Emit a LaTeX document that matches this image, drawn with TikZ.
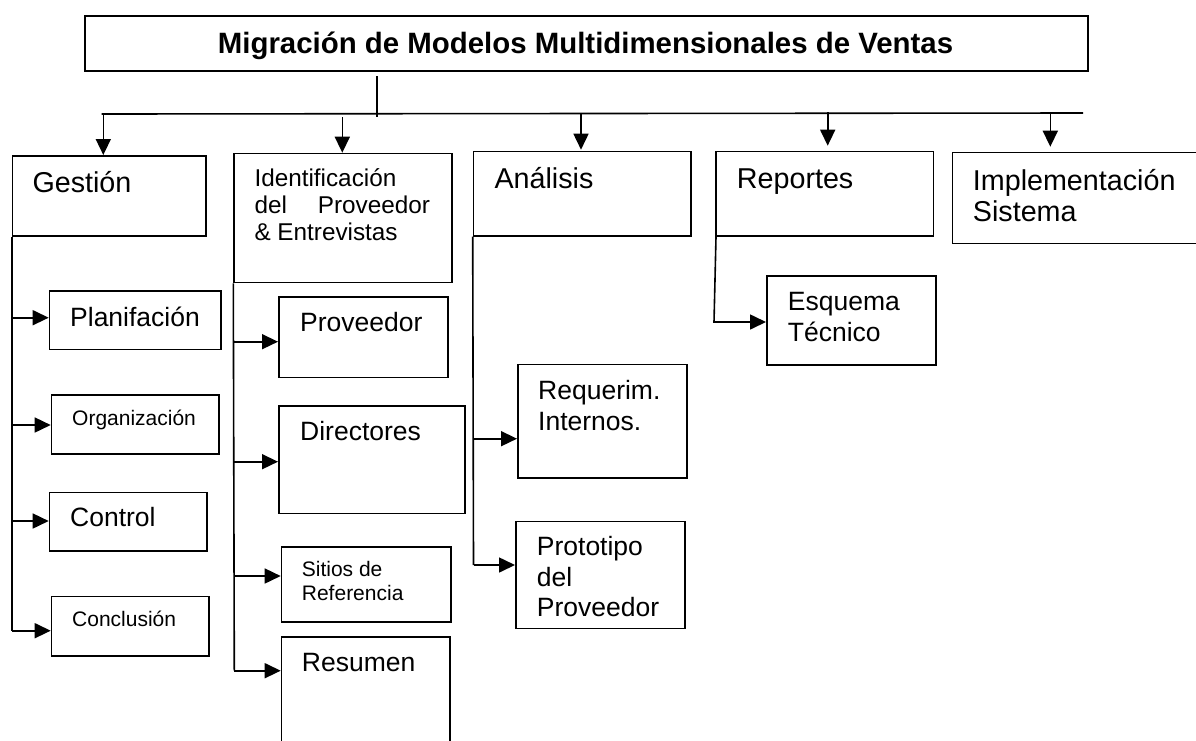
\documentclass[tikz,border=0pt]{standalone}
\usepackage{fontspec}
\setmainfont{Liberation Sans}
\usetikzlibrary{arrows.meta}
\newcommand\fa{\fontsize{28.7}{34}\selectfont}
\newcommand\fb{\fontsize{26.5}{31}\selectfont}
\newcommand\fc{\fontsize{21}{23}\selectfont}
\newcommand\fd{\fontsize{24.3}{27}\selectfont}
\newcommand\ft{\fontsize{29.4}{34}\selectfont\bfseries}
\tikzset{
  box/.style={draw, rectangle, line width=1.6pt, inner sep=0pt, anchor=north west},
  conn/.style={line width=1.6pt},
  arr/.style={conn, -{Triangle[length=16pt,width=15pt]}},
  txt/.style={anchor=base west, inner sep=0pt},
}
\begin{document}
\begin{tikzpicture}[x=1pt,y=-1pt]
\useasboundingbox (0,0) rectangle (1196,740);
\clip (0,0) rectangle (1196,740);
% boxes
\node[box, minimum width=1003pt, minimum height=55pt] (title) at (84,15) {};
\node[box, minimum width=193.3pt, minimum height=80.3pt] (gest) at (11.7,155) {};
\node[box, minimum width=217.7pt, minimum height=129pt] (ident) at (233.3,152.7) {};
\node[box, minimum width=217.3pt, minimum height=84.3pt] (anal) at (472.7,150.7) {};
\node[box, minimum width=217.7pt, minimum height=84.6pt] (repo) at (715,150.7) {};
\node[box, minimum width=260pt, minimum height=91pt] (impl) at (951.7,151.7) {};
\node[box, minimum width=171.3pt, minimum height=58.7pt] (plan) at (48.7,290) {};
\node[box, minimum width=167.3pt, minimum height=59pt] (org) at (50.7,394) {};
\node[box, minimum width=157.3pt, minimum height=58.3pt] (ctrl) at (48.7,491.7) {};
\node[box, minimum width=157.3pt, minimum height=59.3pt] (concl) at (50.7,595.7) {};
\node[box, minimum width=169pt, minimum height=80.7pt] (prov) at (278,296) {};
\node[box, minimum width=186pt, minimum height=107.7pt] (dir) at (278,405) {};
\node[box, minimum width=169.3pt, minimum height=75pt] (sitios) at (280.7,546) {};
\node[box, minimum width=168.6pt, minimum height=120pt] (resu) at (280.7,636) {};
\node[box, minimum width=169pt, minimum height=113.3pt] (req) at (517,363.7) {};
\node[box, minimum width=169pt, minimum height=107pt] (proto) at (515,520.7) {};
\node[box, minimum width=169pt, minimum height=89.3pt] (esq) at (766,275) {};
% texts
\node[anchor=base, inner sep=0pt, font=\ft] (ttitle) at (585.5,53.3) {Migración de Modelos Multidimensionales de Ventas};
\node[txt, font=\fa] (tgest) at (32.3,192.7) {Gestión};
\node[txt, font=\fd] (tid1) at (254.3,186.3) {Identificación};
\node[txt, font=\fd] (tid2) at (254.3,213.3) {\hbox to 175.5pt{del\hfill Proveedor}};
\node[txt, font=\fd] (tid3) at (254.3,240.7) {\& Entrevistas};
\node[txt, font=\fa] (tanal) at (494.3,188.3) {Análisis};
\node[txt, font=\fa] (trepo) at (736.7,188.3) {Reportes};
\node[txt, font=\fa] (timp1) at (972.7,190) {Implementación};
\node[txt, font=\fa] (timp2) at (972.7,221.7) {Sistema};
\node[txt, font=\fb] (tplan) at (70,326) {Planifación};
\node[txt, font=\fc] (torg) at (72,425) {Organización};
\node[txt, font=\fb] (tctrl) at (70,526.7) {Control};
\node[txt, font=\fc] (tconcl) at (72,626) {Conclusión};
\node[txt, font=\fb] (tprov) at (300,331.7) {Proveedor};
\node[txt, font=\fb] (tdir) at (300,440.7) {Directores};
\node[txt, font=\fc] (tsit1) at (301.7,576.7) {Sitios de};
\node[txt, font=\fc] (tsit2) at (301.7,600) {Referencia};
\node[txt, font=\fb] (tresu) at (301.7,671.7) {Resumen};
\node[txt, font=\fb] (treq1) at (538,399) {Requerim.};
\node[txt, font=\fb] (treq2) at (538,430) {Internos.};
\node[txt, font=\fb] (tpro1) at (536.7,555) {Prototipo};
\node[txt, font=\fb] (tpro2) at (536.7,586) {del};
\node[txt, font=\fb] (tpro3) at (536.7,616.7) {Proveedor};
\node[txt, font=\fb] (tesq1) at (787.7,310.7) {Esquema};
\node[txt, font=\fb] (tesq2) at (787.7,341.7) {Técnico};
% top connectors
\coordinate (t0) at (376.7,76);
\coordinate (t1) at (376.7,117);
\coordinate (busL) at (101.7,114);
\coordinate (busR) at (1083,113);
\draw[conn] (t0) -- (t1);
\draw[conn] (busL) -- (busR);
\coordinate (a1) at (103.3,114);
\coordinate (a2) at (342.3,117);
\coordinate (a3) at (581,114);
\coordinate (a4) at (827.7,112);
\coordinate (a5) at (1050.3,113);
\draw[arr] (a1) -- (a1 |- gest.north);
\draw[arr] (a2) -- (a2 |- ident.north);
\draw[arr] (a3) -- ([yshift=1pt]a3 |- anal.north);
\draw[arr, shorten >=5pt] (a4) -- (a4 |- repo.north);
\draw[arr, shorten >=5pt] (a5) -- (a5 |- impl.north);
% Gestión branch
\coordinate (g1) at (11.7,317.7);
\coordinate (g2) at (11.7,425);
\coordinate (g3) at (11.7,521);
\coordinate (g4) at (11.7,630.7);
\draw[conn] (gest.south west) -- (g4);
\draw[arr] (g1) -- (g1 -| plan.west);
\draw[arr] (g2) -- (g2 -| org.west);
\draw[arr] (g3) -- (g3 -| ctrl.west);
\draw[arr] (g4) -- (g4 -| concl.west);
% Identificación branch
\coordinate (i1) at (234.3,341.7);
\coordinate (i2) at (234.3,461.7);
\coordinate (i3) at (234.3,576);
\coordinate (i4) at (234.3,670.7);
\draw[conn] (ident.south west) -- (i4);
\draw[arr] (i1) -- (i1 -| prov.west);
\draw[arr] (i2) -- (i2 -| dir.west);
\draw[arr] (i3) -- (i3 -| sitios.west);
\draw[arr] (i4) -- (i4 -| resu.west);
% Análisis branch
\coordinate (n1) at (473.5,438.7);
\coordinate (n2) at (473.5,565);
\draw[conn] (anal.south west) -- (n2);
\draw[arr] (n1) -- (n1 -| req.west);
\draw[arr] (n2) -- (n2 -| proto.west);
% Reportes branch
\coordinate (r1) at (714,322);
\draw[arr] ([xshift=1pt]repo.south west) -- (r1) -- (r1 -| esq.west);
\end{tikzpicture}
\end{document}
